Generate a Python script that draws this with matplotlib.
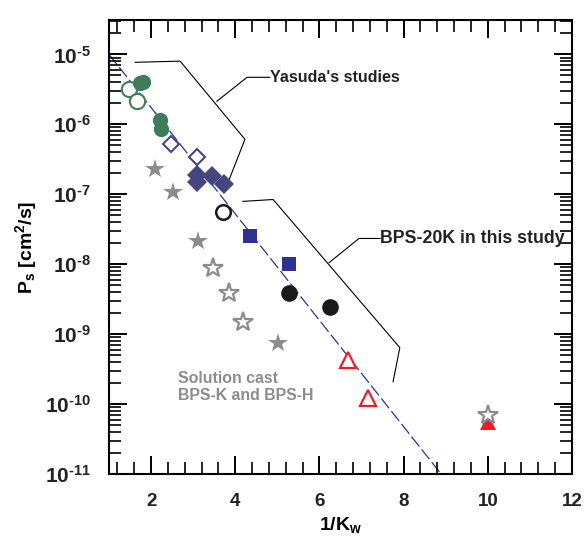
import numpy as np
import matplotlib
matplotlib.use("Agg")
import matplotlib.pyplot as plt
from matplotlib.ticker import FixedLocator, FuncFormatter, NullFormatter

plt.rcParams['font.family'] = ['Liberation Sans', 'DejaVu Sans']
plt.rcParams['font.weight'] = 'bold'
plt.rcParams['mathtext.fontset'] = 'custom'
plt.rcParams['mathtext.rm'] = 'Liberation Sans:bold'
plt.rcParams['mathtext.bf'] = 'Liberation Sans:bold'
plt.rcParams['mathtext.it'] = 'Liberation Sans:bold'

# Yasuda's studies
green_fill_x = [1.74, 1.81, 2.21, 2.24]
green_fill_y = [3.9e-6, 4.0e-6, 1.14e-6, 8.5e-7]
green_open_x = [1.48, 1.67]
green_open_y = [3.2e-6, 2.14e-6]
dia_open_x = [2.47, 3.09]
dia_open_y = [5.3e-7, 3.4e-7]
dia_fill_x = [3.09, 3.10, 3.45, 3.73]
dia_fill_y = [1.87e-7, 1.48e-7, 1.8e-7, 1.4e-7]

# solution cast BPS-K / BPS-H
star_fill_x = [2.09, 2.52, 3.11, 5.01]
star_fill_y = [2.26e-7, 1.06e-7, 2.17e-8, 7.5e-10]
star_open_x = [3.47, 3.85, 4.18, 10.0]
star_open_y = [8.7e-9, 3.9e-9, 1.5e-9, 7.0e-11]

# BPS-20K in this study
circ_open_x = [3.71]
circ_open_y = [5.5e-8]
square_x = [4.35, 5.28]
square_y = [2.5e-8, 1.02e-8]
circ_fill_x = [5.28, 6.25]
circ_fill_y = [3.9e-9, 2.4e-9]
tri_open_x = [6.68, 7.15]
tri_open_y = [4.3e-10, 1.23e-10]
tri_fill_x = [10.0]
tri_fill_y = [5.6e-11]

# trend line
fit_x = [1.0, 8.89]
fit_y = [1e-5, 1e-11]

# bracket outlines and leader lines
yas_bracket_x = [1.62, 2.69, 4.23, 3.83]
yas_bracket_y = [7.7e-6, 8.0e-6, 6.1e-7, 1.48e-7]
yas_leader_x = [3.565, 4.28, 4.82]
yas_leader_y = [2.14e-6, 4.7e-6, 4.7e-6]
bps_bracket_x = [4.18, 4.9, 7.91, 7.75]
bps_bracket_y = [7.9e-8, 8.4e-8, 6.4e-10, 2.08e-10]
bps_leader_x = [6.23, 6.94, 7.44]
bps_leader_y = [1.05e-8, 2.33e-8, 2.33e-8]

x_ticks = [2, 4, 6, 8, 10, 12]
y_exponents = [-11, -10, -9, -8, -7, -6, -5]

green = '#3f7d5a'
navy = '#2e3192'
slate = '#46467e'
gray = '#8c8c8c'
red = '#ee1c25'

fig = plt.figure(figsize=(5.86, 5.41), dpi=100)
ax = fig.add_axes([0.186, 0.124, 0.790, 0.839])

ax.plot(fit_x, fit_y, color=navy, lw=0.9, dashes=(10, 3), zorder=1)

ax.plot(star_fill_x, star_fill_y, '*', color=gray, ms=15, mew=0, zorder=3)
ax.plot(tri_fill_x, tri_fill_y, '^', color=red, ms=12, mew=0, zorder=3)
ax.plot(star_open_x, star_open_y, '*', mfc='white', mec=gray, ms=15, mew=1.6, zorder=4)

ax.plot(green_open_x, green_open_y, 'o', mfc='white', mec=green, ms=11, mew=1.5, zorder=3)
ax.plot(green_fill_x, green_fill_y, 'o', color=green, ms=11, mew=0, zorder=3)
ax.plot(dia_open_x, dia_open_y, 'D', mfc='white', mec=slate, ms=8.5, mew=1.5, zorder=3)
ax.plot(dia_fill_x, dia_fill_y, 'D', color=slate, ms=10, mew=0, zorder=3)

ax.plot(circ_open_x, circ_open_y, 'o', mfc='white', mec='#1a1a1a', ms=10.5, mew=1.8, zorder=3)
ax.plot(square_x, square_y, 's', color=navy, ms=10.5, mew=0, zorder=3)
ax.plot(circ_fill_x, circ_fill_y, 'o', color='#1a1a1a', ms=12, mew=0, zorder=3)
ax.plot(tri_open_x, tri_open_y, '^', mfc='white', mec=red, ms=11, mew=1.6, zorder=3)

ax.plot(yas_bracket_x, yas_bracket_y, color='black', lw=0.8, zorder=2)
ax.plot(yas_leader_x, yas_leader_y, color='black', lw=0.8, zorder=2)
ax.text(yas_leader_x[-1], yas_leader_y[-1], "Yasuda's studies", fontsize=11.5,
        fontweight='bold', va='center', ha='left', color='#222222')

ax.plot(bps_bracket_x, bps_bracket_y, color='black', lw=0.8, zorder=2)
ax.plot(bps_leader_x, bps_leader_y, color='black', lw=0.8, zorder=2)
ax.text(bps_leader_x[-1], bps_leader_y[-1], "BPS-20K in this study", fontsize=12.8,
        fontweight='bold', va='center', ha='left', color='#222222')

ax.text(2.63, 1.75e-10, "Solution cast\nBPS-K and BPS-H", fontsize=11.4, fontweight='bold',
        color=gray, va='center', ha='left', linespacing=1.2)

ax.set_yscale('log')
ax.set_xlim(1, 12)
ax.set_ylim(1e-11, 3.1e-5)

# tick positions kept inside the axis range
decades = [10.0 ** e for e in y_exponents]
y_minor = [m * d for d in decades for m in range(2, 10) if m * d < 3.1e-5]
ax.xaxis.set_major_locator(FixedLocator(x_ticks))
ax.xaxis.set_minor_locator(FixedLocator(np.arange(1.2, 11.9, 0.4)))
ax.xaxis.set_minor_formatter(NullFormatter())
ax.yaxis.set_major_locator(FixedLocator(decades))
ax.yaxis.set_minor_locator(FixedLocator(y_minor))
ax.yaxis.set_minor_formatter(NullFormatter())
ax.yaxis.set_major_formatter(
    FuncFormatter(lambda v, p: r'$\mathbf{10^{\text{-}%d}}$' % abs(round(np.log10(v)))))
ax.xaxis.set_major_formatter(FuncFormatter(lambda v, p: '%d' % v))

ax.tick_params(which='both', direction='in', top=True, right=True)
ax.tick_params(which='major', length=13, width=1.4)
ax.tick_params(which='minor', length=8.5, width=1.2)
ax.tick_params(axis='x', labelsize=13.5, pad=14)
ax.tick_params(axis='y', labelsize=15, pad=13)
for lab in ax.get_xticklabels() + ax.get_yticklabels():
    lab.set_fontweight('bold')
    lab.set_color('#222222')
for s in ax.spines.values():
    s.set_linewidth(1.5)

ax.set_xlabel(r'1/K$_{\mathregular{w}}$', fontsize=14, fontweight='bold', labelpad=3)
ax.set_ylabel(r'P$_{\mathregular{s}}$ [cm$^{\mathregular{2}}$/s]', fontsize=14, fontweight='bold', labelpad=4)

fig.savefig('out.png', dpi=100)
